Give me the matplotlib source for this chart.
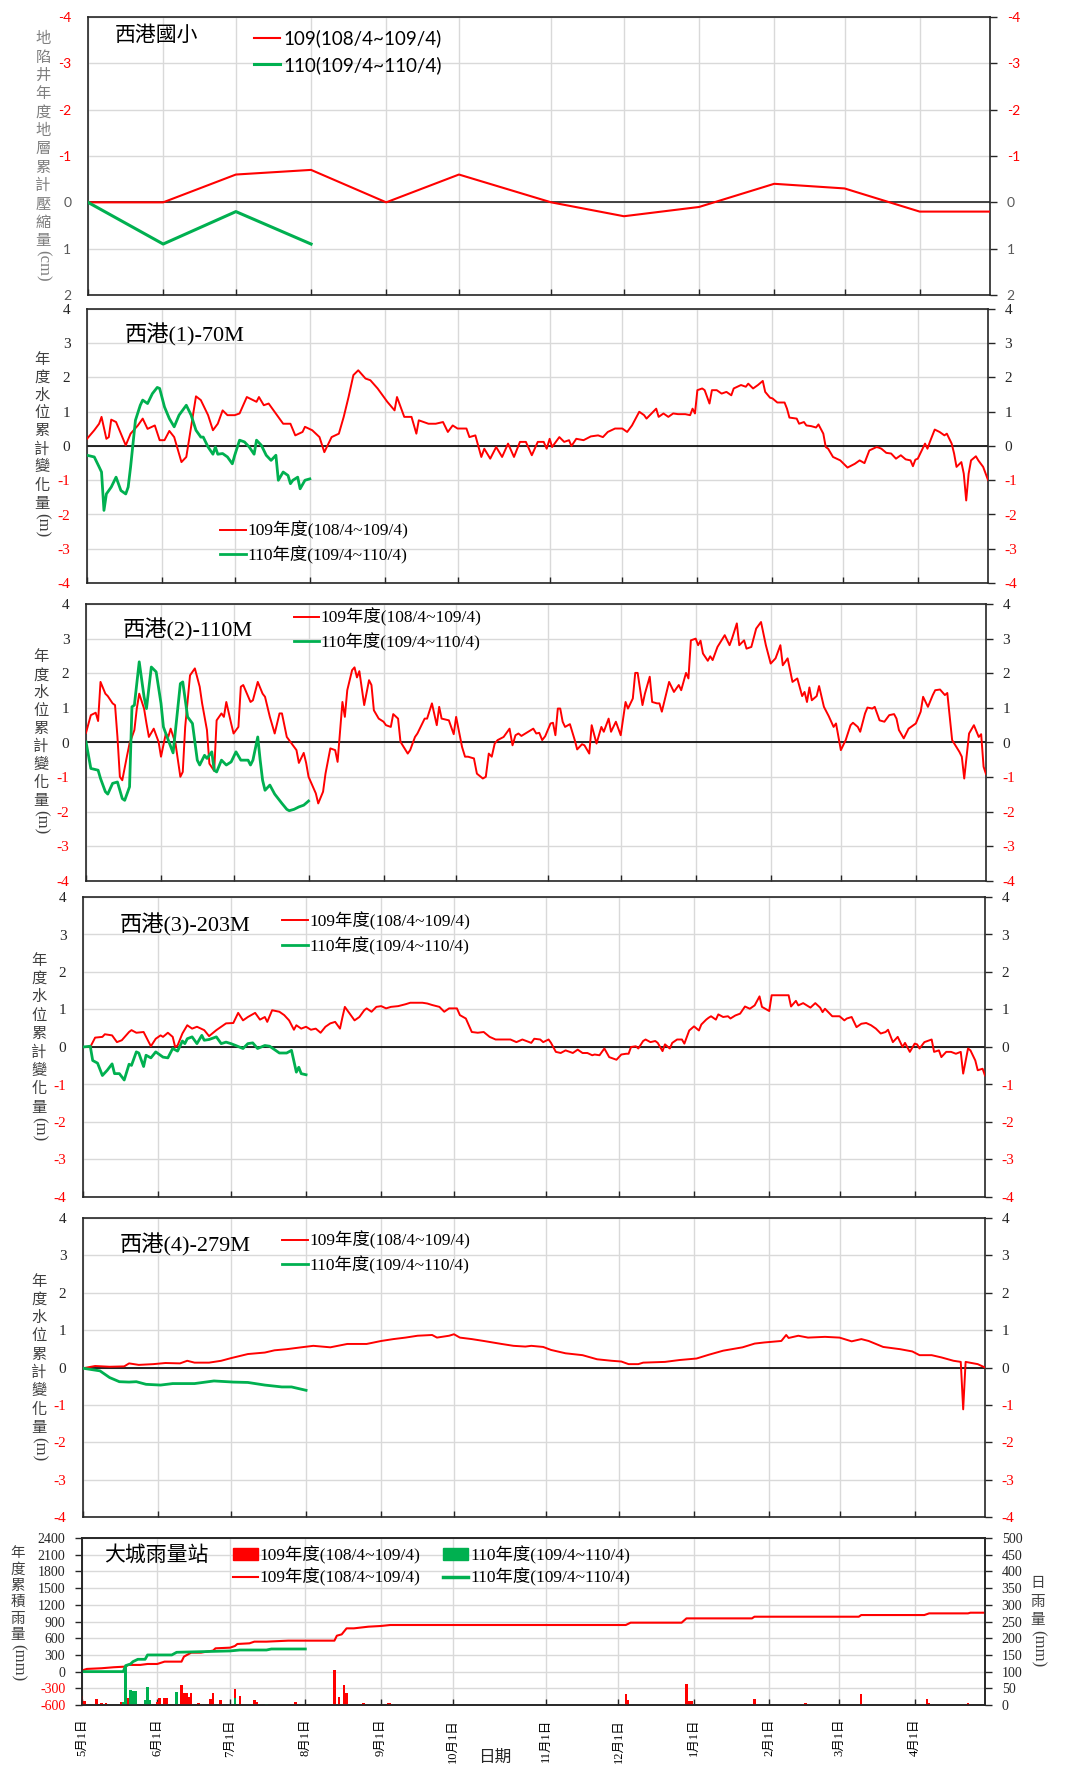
import datetime as dt
import numpy as np
import matplotlib
matplotlib.use("Agg")
import matplotlib.pyplot as plt
import matplotlib.dates as mdates
from matplotlib.lines import Line2D
from matplotlib.patches import Patch
from matplotlib.ticker import FuncFormatter, NullFormatter

SERIF = ["Liberation Serif", "Noto Sans CJK TC"]
SANS = ["Lato", "Noto Sans CJK TC"]
CJK = ["Noto Sans CJK TC", "DejaVu Sans"]
plt.rcParams["font.family"] = SERIF

RED = "#ff0000"
GREEN = "#00b050"
DARK = "#262626"

# ---------------- data ----------------
START = dt.datetime(2019, 5, 1)
END = dt.datetime(2020, 4, 30)

# 西港國小 subsidence well, monthly readings (cm)
settle_dates = ["2019-05-01", "2019-06-01", "2019-07-01", "2019-08-01", "2019-09-01",
                "2019-10-01", "2019-11-01", "2019-12-01", "2020-01-01", "2020-02-01",
                "2020-03-01", "2020-04-01", "2020-04-30"]
settle_109 = [0.0, 0.0, -0.6, -0.7, 0.0, -0.6, 0.0, 0.3, 0.1, -0.4, -0.3, 0.2, 0.2]
settle_110 = [0.0, 0.9, 0.2, 0.9]

# water level change (day offset from 5/1, m)
w1_109 = [(0, 0.21), (3, 0.46), (5, 0.65), (6, 0.85), (8, 0.21), (9, 0.26), (10, 0.77), (12, 0.70),
          (16, 0.02), (18, 0.36), (21, 0.60), (23, 0.80), (25, 0.50), (28, 0.60), (30, 0.17), (32, 0.17),
          (34, 0.44), (36, 0.26), (39, -0.47), (41, -0.32), (43, 0.56), (45, 1.45), (47, 1.34), (50, 0.90),
          (52, 0.46), (54, 0.65), (56, 1.04), (58, 0.90), (61, 0.90), (63, 0.95), (66, 1.43), (70, 1.29),
          (71, 1.43), (73, 1.19), (75, 1.24), (79, 0.85), (81, 0.65), (84, 0.65), (86, 0.31), (89, 0.41),
          (90, 0.56), (93, 0.46), (96, 0.26), (98, -0.18), (101, 0.26), (104, 0.36), (106, 0.85), (108, 1.43),
          (110, 2.07), (112, 2.21), (115, 1.97), (117, 1.92), (120, 1.68), (124, 1.29), (127, 1.04), (128, 1.43),
          (131, 0.85), (134, 0.85), (136, 0.36), (137, 0.75), (141, 0.65), (144, 0.65), (147, 0.70), (149, 0.41),
          (151, 0.60), (153, 0.51), (156, 0.51), (157, 0.26), (159, 0.31), (161, -0.32), (162, -0.08), (164, -0.37),
          (166, -0.03), (168, -0.32), (170, 0.07), (172, -0.32), (174, 0.12), (176, 0.12), (178, -0.27), (180, 0.12),
          (182, 0.12), (183, -0.08), (184, 0.21), (185, -0.03), (188, 0.26), (190, 0.12), (192, 0.17), (193, 0.00),
          (195, 0.21), (198, 0.17), (201, 0.28), (204, 0.31), (206, 0.26), (208, 0.41), (211, 0.51), (214, 0.51),
          (216, 0.41), (218, 0.60), (221, 1.00), (223, 0.90), (224, 0.80), (228, 1.09), (229, 0.85), (231, 0.95),
          (233, 0.85), (235, 0.95), (237, 0.93), (240, 0.93), (242, 0.90), (243, 1.09), (244, 0.95), (245, 1.63),
          (247, 1.68), (248, 1.63), (250, 1.24), (251, 1.63), (253, 1.63), (255, 1.53), (257, 1.58), (259, 1.48),
          (260, 1.68), (263, 1.78), (265, 1.73), (266, 1.82), (268, 1.68), (270, 1.78), (272, 1.90), (273, 1.58),
          (275, 1.41), (276, 1.39), (278, 1.27), (281, 1.27), (282, 1.09), (283, 0.83), (286, 0.80), (287, 0.65),
          (289, 0.70), (290, 0.60), (292, 0.58), (294, 0.54), (295, 0.63), (297, 0.36), (298, -0.03), (299, -0.08),
          (301, -0.32), (304, -0.42), (307, -0.63), (310, -0.52), (312, -0.42), (314, -0.50), (316, -0.13),
          (319, -0.03), (320, -0.05), (321, -0.08), (323, -0.20), (325, -0.22), (327, -0.37), (329, -0.27),
          (331, -0.39), (333, -0.42), (334, -0.59), (335, -0.40), (336, -0.37), (339, 0.07), (340, -0.08),
          (341, 0.12), (343, 0.48), (345, 0.41), (347, 0.31), (348, 0.36), (350, 0.07), (351, -0.22), (352, -0.61),
          (354, -0.47), (355, -0.81), (356, -1.59), (357, -0.81), (358, -0.42), (360, -0.30), (361, -0.42),
          (363, -0.61), (365, -0.99)]
w1_110 = [(0, -0.27), (3, -0.32), (5, -0.61), (6, -0.76), (7, -1.88), (8, -1.40), (10, -1.20), (12, -0.91),
          (14, -1.30), (16, -1.40), (17, -1.20), (18, -0.61), (19, 0.07), (20, 0.75), (22, 1.19), (23, 1.34),
          (25, 1.24), (27, 1.53), (29, 1.71), (30, 1.68), (32, 1.14), (34, 0.80), (36, 0.56), (38, 0.90),
          (41, 1.19), (43, 0.90), (45, 0.46), (47, 0.26), (48, 0.26), (50, -0.03), (52, -0.24), (53, -0.03),
          (54, -0.24), (56, -0.22), (58, -0.32), (60, -0.52), (61, -0.27), (63, 0.17), (65, 0.12), (67, -0.03),
          (69, -0.24), (70, 0.17), (72, 0.02), (74, -0.27), (76, -0.42), (78, -0.27), (79, -1.00), (81, -0.76),
          (83, -0.86), (84, -1.10), (85, -1.00), (87, -0.91), (88, -1.25), (90, -1.00), (92, -0.96)]

w2_109 = [(0, 0.28), (2, 0.79), (4, 0.86), (5, 0.62), (6, 1.75), (8, 1.41), (9, 1.34), (11, 1.13), (12, 1.08),
          (13, 0.16), (14, -0.99), (15, -1.09), (17, -0.37), (18, -0.03), (20, 0.36), (21, 0.98), (22, 1.41),
          (24, 0.98), (25, 0.55), (26, 0.16), (28, 0.40), (30, 0.02), (31, -0.41), (33, 0.26), (34, 0.16),
          (35, 0.40), (37, -0.03), (39, -0.99), (40, -0.85), (41, 0.45), (43, 1.94), (45, 2.14), (47, 1.61),
          (48, 1.13), (50, 0.36), (51, -0.61), (53, -0.82), (54, 0.64), (56, 0.84), (57, 0.74), (58, 1.17),
          (60, 0.55), (61, 0.26), (63, 0.45), (64, 1.61), (65, 1.66), (68, 1.17), (69, 1.22), (71, 1.75),
          (73, 1.41), (74, 1.32), (76, 0.74), (78, 0.26), (80, 0.84), (81, 0.84), (83, 0.16), (85, -0.03),
          (87, -0.22), (88, -0.59), (90, -0.30), (91, -0.59), (92, -0.99), (95, -1.47), (96, -1.76), (98, -1.42),
          (99, -0.90), (101, -0.17), (103, -0.22), (104, -0.56), (106, 1.17), (107, 0.74), (108, 1.51),
          (110, 2.09), (111, 2.17), (112, 1.88), (113, 2.06), (115, 1.08), (117, 1.80), (118, 1.66), (119, 0.93),
          (121, 0.69), (123, 0.60), (124, 0.50), (126, 0.45), (127, 0.82), (129, 0.69), (130, 0.02), (133, -0.32),
          (134, -0.22), (136, 0.16), (137, 0.26), (140, 0.69), (141, 0.69), (143, 1.13), (145, 0.50), (146, 1.03),
          (147, 0.69), (150, 0.64), (152, 0.24), (153, 0.74), (155, -0.13), (156, -0.41), (157, -0.41),
          (159, -0.46), (160, -0.90), (162, -1.04), (163, -0.99), (164, -0.32), (165, -0.41), (166, -0.03),
          (167, 0.07), (169, 0.16), (171, 0.40), (172, -0.08), (173, 0.21), (174, 0.26), (175, 0.19), (179, 0.40),
          (180, 0.26), (181, 0.28), (182, 0.07), (183, 0.18), (185, 0.55), (186, 0.57), (187, 0.21), (188, 0.98),
          (189, 0.98), (190, 0.60), (191, 0.45), (193, 0.53), (195, 0.07), (196, -0.20), (198, -0.05), (199, -0.08),
          (201, -0.32), (202, 0.50), (204, -0.03), (206, 0.45), (207, 0.31), (208, 0.50), (209, 0.69), (210, 0.31),
          (212, 0.60), (214, 0.21), (216, 1.17), (217, 0.98), (219, 1.27), (220, 2.01), (221, 2.01), (223, 1.08),
          (224, 1.41), (226, 1.90), (227, 1.17), (229, 1.13), (230, 1.13), (231, 0.89), (234, 1.75), (236, 1.46),
          (238, 1.66), (239, 1.51), (241, 2.01), (242, 1.85), (243, 2.95), (245, 3.00), (246, 2.81), (247, 2.94),
          (248, 2.57), (250, 2.36), (251, 2.49), (252, 2.38), (254, 2.76), (257, 3.10), (259, 2.81), (260, 3.00),
          (262, 3.44), (263, 2.81), (265, 2.95), (266, 2.71), (268, 2.76), (270, 3.29), (272, 3.48), (274, 2.81),
          (276, 2.28), (278, 2.43), (280, 2.81), (281, 2.23), (283, 2.43), (285, 1.75), (287, 1.85), (289, 1.34),
          (290, 1.46), (291, 1.17), (292, 1.59), (293, 1.22), (295, 1.34), (296, 1.63), (298, 1.03), (300, 0.76),
          (302, 0.45), (303, 0.55), (305, -0.22), (307, 0.07), (309, 0.50), (310, 0.57), (312, 0.45), (313, 0.31),
          (315, 0.84), (316, 1.01), (318, 0.98), (319, 1.03), (321, 0.64), (323, 0.60), (325, 0.79), (327, 0.82),
          (328, 0.69), (329, 0.36), (331, 0.12), (333, 0.40), (336, 0.55), (338, 0.89), (339, 1.32), (341, 1.03),
          (343, 1.37), (344, 1.51), (346, 1.53), (348, 1.37), (349, 1.43), (350, 0.74), (351, 0.07), (354, -0.27),
          (355, -0.41), (356, -1.04), (358, 0.26), (360, 0.50), (362, 0.16), (363, 0.24), (364, -0.70), (365, -0.91)]
w2_110 = [(0, 0.02), (2, -0.75), (5, -0.80), (6, -1.04), (8, -1.42), (9, -1.49), (11, -1.18), (13, -1.14),
          (15, -1.62), (16, -1.67), (18, -1.28), (19, 1.03), (20, 1.08), (22, 2.33), (24, 1.32), (25, 0.98),
          (27, 2.18), (29, 2.04), (31, 1.13), (32, 0.45), (34, 0.07), (36, -0.30), (37, 0.36), (39, 1.70),
          (40, 1.75), (42, 0.74), (44, 0.55), (46, -0.51), (47, -0.65), (49, -0.37), (50, -0.46), (52, -0.27),
          (53, -0.80), (54, -0.85), (56, -0.51), (58, -0.65), (60, -0.56), (62, -0.27), (64, -0.51), (67, -0.51),
          (68, -0.65), (69, -0.51), (71, 0.16), (72, -0.51), (73, -1.09), (74, -1.38), (76, -1.23), (78, -1.49),
          (81, -1.76), (83, -1.93), (84, -1.97), (86, -1.93), (88, -1.86), (90, -1.81), (92, -1.69)]

w3_109 = [(0, 0.0), (3, 0.0), (5, 0.25), (8, 0.27), (9, 0.34), (12, 0.31), (14, 0.13), (16, 0.18), (19, 0.40),
          (20, 0.45), (22, 0.38), (25, 0.40), (28, 0.02), (30, 0.22), (32, 0.31), (33, 0.27), (35, 0.38), (37, 0.27),
          (38, 0.0), (39, 0.04), (41, 0.36), (43, 0.58), (45, 0.49), (47, 0.54), (50, 0.45), (52, 0.29), (55, 0.45),
          (57, 0.54), (59, 0.63), (62, 0.64), (64, 0.91), (66, 0.71), (68, 0.80), (71, 0.91), (73, 0.73), (75, 0.80),
          (76, 0.67), (78, 0.98), (81, 0.94), (83, 0.85), (85, 0.71), (87, 0.46), (88, 0.58), (90, 0.49), (92, 0.54),
          (94, 0.46), (96, 0.49), (98, 0.38), (100, 0.54), (102, 0.63), (104, 0.67), (106, 0.49), (107, 0.79),
          (108, 1.07), (110, 0.89), (112, 0.71), (114, 0.80), (116, 0.98), (117, 1.03), (119, 0.94), (121, 1.07),
          (123, 1.09), (125, 1.03), (127, 1.07), (130, 1.09), (133, 1.14), (135, 1.18), (137, 1.18), (140, 1.18),
          (142, 1.16), (144, 1.12), (147, 1.07), (149, 0.94), (151, 1.03), (154, 1.03), (155, 0.85), (157, 0.76),
          (159, 0.40), (161, 0.38), (163, 0.40), (165, 0.27), (167, 0.20), (170, 0.20), (172, 0.20), (174, 0.13),
          (176, 0.20), (179, 0.11), (180, 0.22), (182, 0.20), (183, 0.13), (185, 0.20), (186, 0.11), (188, -0.13),
          (190, -0.16), (192, -0.09), (195, -0.16), (197, -0.07), (199, -0.16), (201, -0.16), (203, -0.22),
          (204, -0.20), (206, -0.22), (208, -0.04), (210, -0.27), (213, -0.34), (215, -0.20), (217, -0.18),
          (218, -0.18), (219, 0.0), (221, 0.02), (222, -0.04), (224, 0.16), (225, 0.20), (227, 0.13), (229, 0.16),
          (230, 0.11), (232, -0.11), (233, 0.07), (235, -0.04), (236, 0.11), (238, 0.20), (240, 0.20), (241, 0.09),
          (243, 0.44), (245, 0.55), (247, 0.44), (248, 0.60), (250, 0.73), (251, 0.78), (252, 0.82), (254, 0.73),
          (255, 0.87), (257, 0.80), (259, 0.82), (260, 0.76), (262, 0.84), (264, 0.89), (266, 1.08), (268, 1.02),
          (270, 1.11), (272, 1.35), (273, 1.07), (276, 0.96), (277, 1.38), (281, 1.38), (284, 1.38), (285, 1.08),
          (287, 1.23), (288, 1.11), (290, 1.17), (293, 1.05), (295, 1.17), (297, 1.05), (298, 0.93), (299, 1.02),
          (302, 0.82), (305, 0.82), (307, 0.71), (308, 0.76), (310, 0.80), (312, 0.53), (314, 0.62), (316, 0.64),
          (318, 0.58), (320, 0.49), (322, 0.36), (324, 0.40), (325, 0.46), (327, 0.13), (329, 0.27), (331, 0.0),
          (332, 0.11), (334, -0.13), (336, 0.09), (337, 0.07), (338, -0.04), (340, 0.13), (343, 0.20), (344, -0.13),
          (346, -0.09), (347, -0.27), (349, -0.13), (351, -0.13), (353, -0.18), (355, -0.13), (356, -0.71),
          (358, -0.04), (359, -0.09), (361, -0.36), (362, -0.62), (364, -0.58), (365, -0.76)]
w3_110 = [(0, 0.0), (3, 0.02), (4, -0.36), (6, -0.43), (8, -0.76), (10, -0.62), (12, -0.45), (13, -0.71),
          (15, -0.71), (17, -0.88), (19, -0.46), (20, -0.49), (22, -0.13), (23, -0.16), (25, -0.52), (26, -0.22),
          (28, -0.29), (30, -0.13), (33, -0.27), (35, -0.29), (37, -0.04), (39, -0.11), (41, 0.16), (42, 0.09),
          (43, 0.22), (45, 0.27), (47, 0.09), (49, 0.31), (50, 0.18), (52, 0.20), (55, 0.27), (57, 0.09), (59, 0.13),
          (61, 0.09), (63, 0.04), (66, -0.04), (68, 0.09), (70, 0.11), (72, -0.04), (75, 0.04), (77, 0.02),
          (79, -0.07), (81, -0.16), (84, -0.16), (86, -0.09), (88, -0.67), (89, -0.54), (90, -0.71), (92, -0.74)]

w4_109 = [(0, -0.02), (5, 0.04), (11, 0.02), (17, 0.03), (19, 0.11), (23, 0.07), (29, 0.09), (34, 0.12),
          (40, 0.11), (43, 0.18), (46, 0.13), (52, 0.13), (57, 0.18), (61, 0.25), (68, 0.36), (75, 0.40), (79, 0.46),
          (84, 0.49), (90, 0.54), (95, 0.58), (102, 0.54), (109, 0.63), (117, 0.63), (123, 0.71), (128, 0.76),
          (133, 0.80), (138, 0.85), (144, 0.87), (146, 0.80), (151, 0.85), (153, 0.89), (155, 0.80), (159, 0.76),
          (163, 0.71), (169, 0.63), (173, 0.58), (177, 0.56), (179, 0.58), (183, 0.55), (186, 0.47), (192, 0.38),
          (199, 0.33), (205, 0.22), (211, 0.18), (215, 0.16), (218, 0.09), (222, 0.09), (224, 0.13), (233, 0.15),
          (239, 0.20), (246, 0.24), (251, 0.34), (257, 0.45), (265, 0.54), (270, 0.64), (274, 0.67), (281, 0.71),
          (283, 0.87), (284, 0.79), (288, 0.85), (292, 0.80), (299, 0.82), (305, 0.80), (310, 0.70), (314, 0.76),
          (317, 0.71), (323, 0.55), (330, 0.49), (335, 0.43), (338, 0.33), (343, 0.33), (347, 0.27), (352, 0.18),
          (355, 0.15), (356, -1.12), (357, 0.15), (362, 0.09), (365, 0.0)]
w4_110 = [(0, -0.02), (7, -0.09), (11, -0.27), (15, -0.38), (19, -0.39), (22, -0.38), (26, -0.45), (32, -0.47),
          (37, -0.43), (46, -0.43), (54, -0.36), (62, -0.39), (68, -0.40), (75, -0.47), (82, -0.52), (86, -0.52),
          (92, -0.61)]

# 大城 rain gauge: cumulative (mm) and daily (mm)
rain_cum_109 = [(0, 20), (2, 48), (8, 60), (13, 78), (18, 90), (19, 120), (24, 120), (27, 137), (31, 137),
                (34, 179), (41, 179), (42, 269), (45, 341), (49, 341), (54, 377), (55, 418), (61, 430), (63, 460),
                (64, 496), (69, 508), (71, 538), (76, 538), (85, 556), (104, 556), (105, 645), (107, 669),
                (109, 777), (112, 777), (118, 807), (123, 819), (127, 837), (217, 837), (219, 879), (240, 879),
                (242, 956), (269, 956), (270, 986), (313, 986), (314, 1016), (340, 1016), (342, 1046), (358, 1046),
                (359, 1058), (365, 1058)]
rain_cum_110 = [(0, 0), (17, 0), (18, 108), (20, 137), (21, 179), (23, 221), (26, 221), (27, 299), (37, 299),
                (39, 347), (61, 371), (65, 388), (76, 388), (78, 406), (92, 406)]
rain_day_109 = [(0, 27), (1, 12), (6, 18), (8, 7), (10, 7), (16, 10), (19, 22), (20, 7), (31, 10), (32, 20),
                (34, 22), (35, 22), (41, 60), (42, 35), (43, 35), (44, 25), (45, 35), (48, 7), (53, 18), (54, 37),
                (57, 15), (63, 47), (65, 27), (71, 15), (72, 10), (88, 10), (104, 105), (106, 25), (108, 60),
                (109, 37), (116, 7), (126, 7), (127, 7), (217, 33), (218, 15), (242, 63), (243, 12), (244, 12),
                (270, 17), (291, 5), (314, 33), (341, 17), (342, 7), (358, 7)]
rain_day_110 = [(17, 10), (18, 118), (20, 45), (21, 43), (22, 43), (26, 15), (27, 55), (28, 15), (39, 38),
                (63, 22), (70, 3), (76, 2)]

LAB_109 = "109年度(108/4~109/4)"
LAB_110 = "110年度(109/4~110/4)"

# ---------------- layout helpers ----------------
W, H = 1068, 1769
fig = plt.figure(figsize=(W / 100, H / 100), dpi=100)

T0 = mdates.date2num(START)
T1 = mdates.date2num(END)
OCT = mdates.date2num(dt.datetime(2019, 10, 1))
K = 1.227  # October is drawn wider than the other months in the source chart


def fwd(x):
    x = np.asarray(x, float)
    return x + (K - 1) * np.clip(x - OCT, 0, 31)


def inv(y):
    y = np.asarray(y, float)
    return y - (K - 1) / K * np.clip(y - OCT, 0, 31 * K)


def xs(days):
    return T0 + np.asarray(days, float)


def add_panel(l, t, r, b):
    return fig.add_axes([l / W, 1 - b / H, (r - l) / W, (b - t) / H])


def base_style(ax):
    ax.set_xscale("function", functions=(fwd, inv))
    ax.set_xlim(T0, T1)
    ax.xaxis.set_major_locator(mdates.MonthLocator(bymonthday=1))
    ax.xaxis.set_major_formatter(NullFormatter())
    ax.grid(True, color="#d9d9d9", lw=1.0)
    ax.set_axisbelow(True)
    for s in ax.spines.values():
        s.set_color(DARK)
        s.set_linewidth(1.2)
    ax.tick_params(axis="x", direction="in", length=4, width=1, color=DARK)


def y_ticks(ax, ticks, pos_color, family, size, left=True, right=True):
    ax.tick_params(axis="y", left=False, right=right, labelleft=left, labelright=right,
                   direction="out", length=5, width=1, color=DARK, pad=7,
                   labelsize=size, labelfontfamily=family)
    ax.set_yticks(ticks, labels=[f"{t:g}" for t in ticks])
    for t, tk in zip(ticks, ax.yaxis.get_major_ticks()):
        c = RED if t < 0 else pos_color
        tk.label1.set_color(c)
        tk.label2.set_color(c)


def vlabel(x, y0, chars, suffix, step, size, color, suffix_size=12):
    for i, ch in enumerate(chars):
        fig.text(x / W, 1 - (y0 + i * step) / H, ch, ha="center", va="center",
                 fontsize=size, color=color, family=CJK)
    ytop = y0 + (len(chars) - 0.45) * step
    fig.text(x / W, 1 - ytop / H, suffix, rotation=270, ha="center", va="top",
             fontsize=suffix_size, color=color, family=SERIF)


def unpack(pairs):
    d, v = zip(*pairs)
    return xs(d), np.array(v)


# ---------------- panel 1: 西港國小 ----------------
ax = add_panel(88, 17, 990, 295)
base_style(ax)
ax.set_ylim(2, -4)
y_ticks(ax, [-4, -3, -2, -1, 0, 1, 2], "#595959", SANS, 10)
ax.axhline(0, color="#333333", lw=1.3, zorder=2)
sx = mdates.date2num([dt.datetime.fromisoformat(s) for s in settle_dates])
ax.plot(sx, settle_109, color=RED, lw=1.5, zorder=3)
ax.plot(sx[:len(settle_110)], settle_110, color=GREEN, lw=2.2, zorder=3)
ax.text(0.03, 0.935, "西港國小", transform=ax.transAxes, fontsize=15, va="center", family=CJK)
ax.legend([Line2D([], [], color=RED, lw=1.5), Line2D([], [], color=GREEN, lw=2.2)],
          ["109(108/4~109/4)", "110(109/4~110/4)"], loc="upper left", bbox_to_anchor=(0.184, 0.955),
          frameon=False, borderpad=0, borderaxespad=0, handlelength=1.4, handletextpad=0.15,
          labelspacing=0.45, prop={"family": SANS, "size": 13.5})
vlabel(43, 39, "地陷井年度地層累計壓縮量", "(cm)", 18.3, 11, "#7f7f7f")

# ---------------- panels 2-5: water level wells ----------------
wells = [
    ("西港(1)-70M", w1_109, w1_110, (87, 309, 988, 583), (0.042, 0.905), (0.148, 0.225), (42, 359, 18.0)),
    ("西港(2)-110M", w2_109, w2_110, (86, 604, 986, 881), (0.041, 0.906), (0.231, 0.985), (41, 657, 17.9)),
    ("西港(3)-203M", w3_109, w3_110, (83, 897, 985, 1197), (0.041, 0.907), (0.221, 0.950), (39, 960, 18.4)),
    ("西港(4)-279M", w4_109, w4_110, (83, 1218, 985, 1517), (0.041, 0.910), (0.221, 0.955), (39, 1281, 18.3)),
]
for name, s109, s110, box, tpos, lpos, lab in wells:
    ax = add_panel(*box)
    base_style(ax)
    ax.set_ylim(-4, 4)
    y_ticks(ax, [-4, -3, -2, -1, 0, 1, 2, 3, 4], DARK, SERIF, 11)
    ax.axhline(0, color="black", lw=1.2, zorder=2)
    x, v = unpack(s109)
    ax.plot(x, v, color=RED, lw=1.4, zorder=3)
    x, v = unpack(s110)
    ax.plot(x, v, color=GREEN, lw=2.0, zorder=3)
    ax.text(tpos[0], tpos[1], name, transform=ax.transAxes, fontsize=16, va="center", family=SERIF)
    ax.legend([Line2D([], [], color=RED, lw=1.4), Line2D([], [], color=GREEN, lw=2.0)],
              [LAB_109, LAB_110], loc="upper left", bbox_to_anchor=lpos, frameon=False,
              borderpad=0, borderaxespad=0, handlelength=1.45, handletextpad=0.1, labelspacing=0.35,
              prop={"family": SERIF, "size": 12.5})
    vlabel(lab[0], lab[1], "年度水位累計變化量", "(m)", lab[2], 11, "#404040")

# ---------------- panel 6: rain ----------------
ax = add_panel(82, 1538, 985, 1705)
base_style(ax)
ax.set_ylim(-600, 2400)
y_ticks(ax, list(range(-600, 2401, 300)), DARK, SERIF, 10, left=True, right=False)
ax.xaxis.set_major_formatter(FuncFormatter(
    lambda v, p: f"{mdates.num2date(v).month}月{mdates.num2date(v).day}日"))
ax.tick_params(axis="x", labelbottom=True, labelrotation=90, labelsize=9, pad=10,
               labelfontfamily=SERIF)
axr = ax.twinx()
axr.set_ylim(0, 500)
for s in axr.spines.values():
    s.set_color(DARK)
    s.set_linewidth(1.2)
y_ticks(axr, list(range(0, 501, 50)), DARK, SERIF, 10, left=False, right=True)

x, v = unpack(rain_day_109)
axr.bar(x, v, width=1.0, color=RED, zorder=2)
x, v = unpack(rain_day_110)
axr.bar(x, v, width=1.0, color=GREEN, zorder=2)
x, v = unpack(rain_cum_109)
ax.plot(x, v, color=RED, lw=1.5, zorder=3)
x, v = unpack(rain_cum_110)
ax.plot(x, v, color=GREEN, lw=2.0, zorder=3)

ax.text(0.025, 0.898, "大城雨量站", transform=ax.transAxes, fontsize=15, va="center", family=CJK)
handles = [Patch(color=RED), Line2D([], [], color=RED, lw=1.5),
           Patch(color=GREEN), Line2D([], [], color=GREEN, lw=2.5)]
axr.legend(handles, [LAB_109, LAB_109, LAB_110, LAB_110], ncol=2, loc="upper left",
           bbox_to_anchor=(0.167, 0.955), bbox_transform=ax.transAxes, frameon=False,
           borderpad=0, borderaxespad=0, handlelength=1.45, handletextpad=0.1, labelspacing=0.25,
           columnspacing=1.3, prop={"family": SERIF, "size": 12.5})
vlabel(18, 1553, "年度累積雨量", "(mm)", 16.4, 10.5, "#404040")
vlabel(1038, 1583, "日雨量", "(mm)", 18.5, 10.5, "#404040")
fig.text(495 / W, 1 - 1757 / H, "日期", ha="center", va="center", fontsize=12, family=CJK, color=DARK)

fig.savefig("out.png", dpi=100)
